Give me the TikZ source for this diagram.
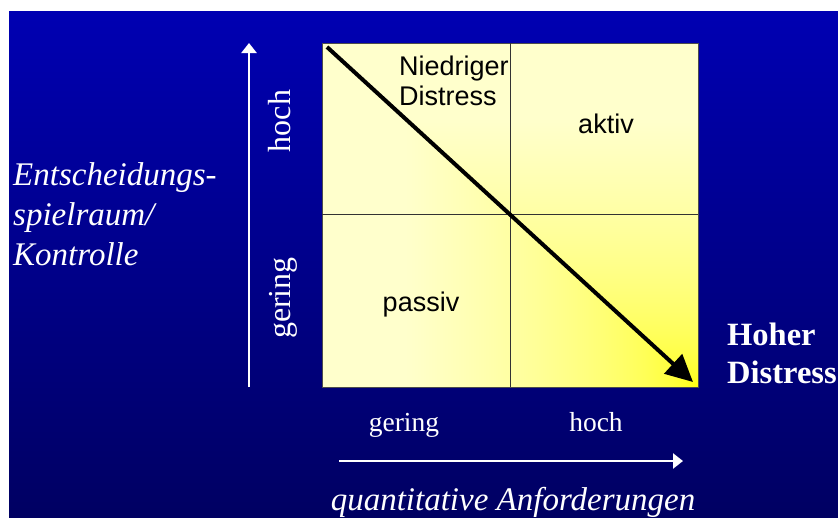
\documentclass[tikz,border=0pt]{standalone}
\usepackage{fontspec}
\setmainfont{Liberation Serif}
\setsansfont{Liberation Sans}
\usetikzlibrary{arrows.meta}

\definecolor{bgtop}{RGB}{0,0,178}
\definecolor{bgbot}{RGB}{0,0,98}

% yellow glowing out of the lower right corner, square contours
\pgfdeclarefunctionalshading{cornerglow}{\pgfpoint{0bp}{0bp}}{\pgfpoint{100bp}{100bp}}{}{
  25 sub 50 div exch 75 exch sub 50 div
  2 copy lt {exch} if pop
  dup 0 lt {pop 0} if
  0.78 div sqrt dup 1 gt {pop 1} if
  0.8 mul 1 1 3 -1 roll
}

\tikzset{
  lbl/.style={text=white, inner sep=0pt, font=\fontsize{27.5}{34}\selectfont},
  side/.style={text=white, inner sep=0pt, font=\fontsize{32}{38}\selectfont},
  ital/.style={text=white, inner sep=0pt, font=\itshape\fontsize{33}{40}\selectfont},
  heavy/.style={text=white, inner sep=0pt, font=\bfseries\fontsize{32.5}{38}\selectfont},
  quad/.style={text=black, inner sep=0pt, font=\sffamily\fontsize{27}{30}\selectfont},
  axis/.style={white, line width=2.7pt, -{Triangle[length=10pt, width=15pt]}},
}

\begin{document}
\begin{tikzpicture}[x=1pt, y=-1pt]
    \useasboundingbox (0,0) rectangle (838,517);
    \fill[white] (0,0) rectangle (838,517);
    \shade[top color=bgtop, bottom color=bgbot] (9,11) rectangle (838,517);

    % field
    \coordinate (tl) at (322,43);
    \coordinate (br) at (698,387);
    \coordinate (mid) at (510,214);
    \shade[shading=cornerglow] (tl) rectangle (br);
    \draw[gray!60!black, line width=0.8pt] (tl) rectangle (br);
    \draw[black!80, line width=0.8pt] (mid -| tl) -- (mid -| br);
    \draw[black!80, line width=0.8pt] (mid |- tl) -- (mid |- br);

    % multi-line nodes sit on their last baseline
    \node[quad, anchor=base west, align=left] (niedrig) at (399,105) {Niedriger\\Distress};
    \node[quad, anchor=base] (aktiv) at (606,133) {aktiv};
    \node[quad, anchor=base] (passiv) at (421,311) {passiv};

    \coordinate (diag0) at (327,47);
    \coordinate (diag1) at (693,382);
    \draw[black, line width=4pt, -{Triangle[length=27pt, width=26pt]}] (diag0) -- (diag1);

    % axes
    \coordinate (y0) at (249,387);
    \coordinate (y1) at (249,43);
    \draw[axis] (y0) -- (y1);
    \coordinate (x0) at (339,461);
    \coordinate (x1) at (683,461);
    \draw[axis] (x0) -- (x1);

    \node[side, rotate=90, anchor=base] (yhoch) at (290,121) {hoch};
    \node[side, rotate=90, anchor=base] (ygering) at (290,298) {gering};
    \node[lbl, anchor=base] (xgering) at (404,431) {gering};
    \node[lbl, anchor=base] (xhoch) at (596,431) {hoch};

    \node[ital, anchor=base west, align=left] (kontrolle) at (13,265) {Entscheidungs-\\spielraum/\\Kontrolle};
    \node[ital, anchor=base] (anford) at (513,510) {quantitative Anforderungen};
    \node[heavy, anchor=base west, align=left] (hoher) at (727,383) {Hoher\\Distress};
\end{tikzpicture}
\end{document}
